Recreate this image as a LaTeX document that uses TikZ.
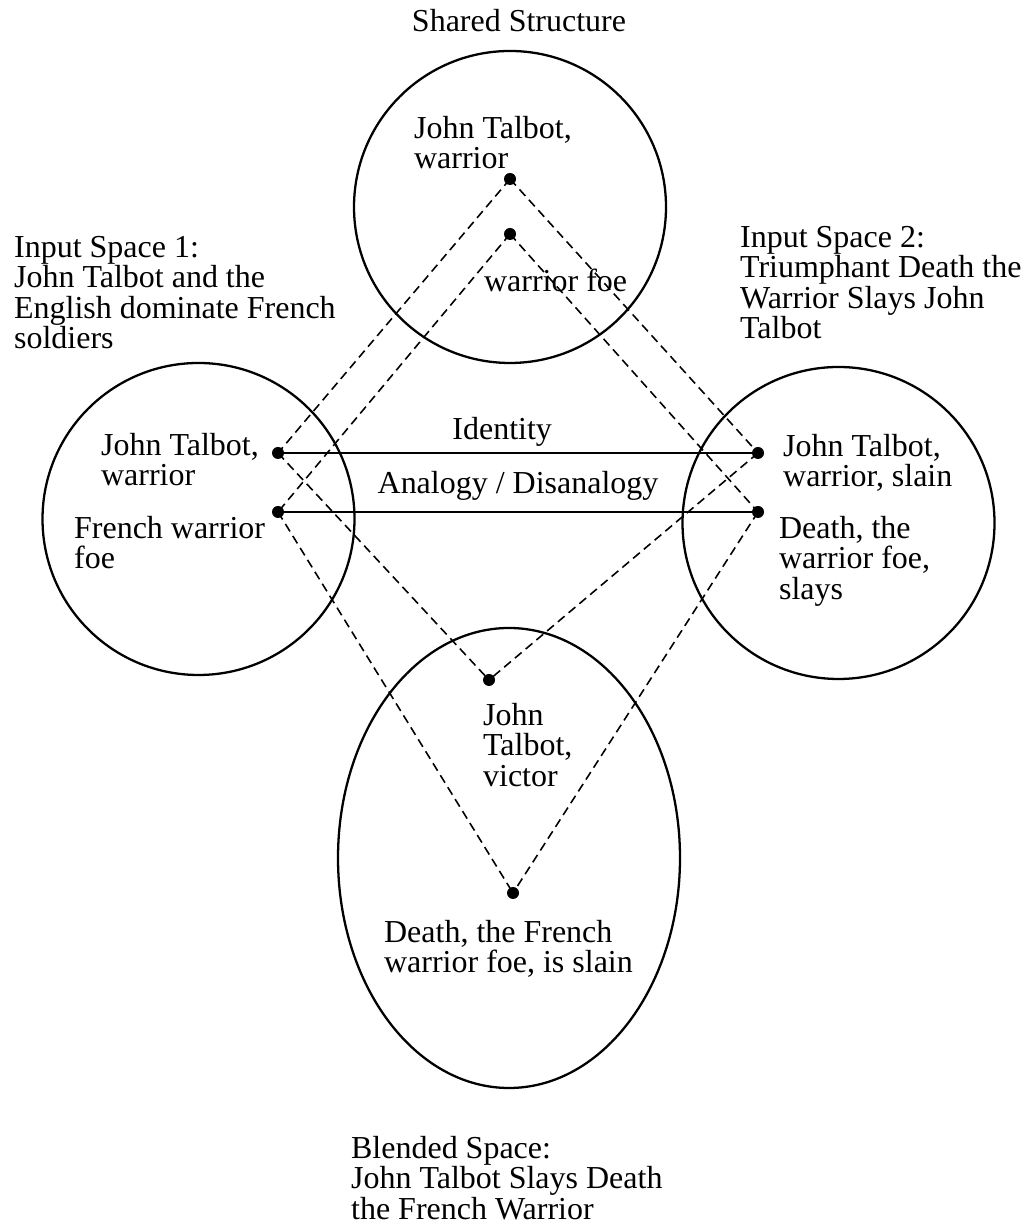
\documentclass[tikz,border=0pt]{standalone}
\usepackage{fontspec}
\setmainfont{Liberation Serif}
\usetikzlibrary{positioning}
\tikzset{every picture/.style={line width=1.3pt}}

\begin{document}
\begin{tikzpicture}[
    txt/.style={inner sep=0pt, align=left, anchor=north west, font=\fontsize{18.2}{17.3}\selectfont},
    mapline/.style={line width=0.9pt, dash pattern=on 5pt off 3pt},
    dot/.style={circle, fill, inner sep=0pt, minimum size=0.24cm}
]
    \useasboundingbox (0,0) rectangle (20.48,24.52);
    % 四个空间
    \draw (10.2,20.38) circle (3.12);
    \draw (3.97,14.14) circle (3.12);
    \draw (16.77,14.06) circle (3.12);
    \draw (10.18,7.36) ellipse (3.42 and 4.6);
    % 元素
    \node[dot] (t1) at (10.2,20.94) {};
    \node[dot] (t2) at (10.2,19.84) {};
    \node[dot] (l1) at (5.56,15.46) {};
    \node[dot] (l2) at (5.56,14.28) {};
    \node[dot] (r1) at (15.16,15.46) {};
    \node[dot] (r2) at (15.16,14.28) {};
    \node[dot] (b1) at (9.78,10.92) {};
    \node[dot] (b2) at (10.26,6.66) {};
    % 映射
    \draw[mapline] (t1.center) -- (l1.center);
    \draw[mapline] (t1.center) -- (r1.center);
    \draw[mapline] (t2.center) -- (l2.center);
    \draw[mapline] (t2.center) -- (r2.center);
    \draw[mapline] (l1.center) -- (b1.center);
    \draw[mapline] (r1.center) -- (b1.center);
    \draw[mapline] (l2.center) -- (b2.center);
    \draw[mapline] (r2.center) -- (b2.center);
    % 跨空间连接
    \draw (l1.center) -- node[txt, pos=.467, anchor=base, yshift=0.26cm] (ident) {Identity} (r1.center);
    \draw (l2.center) -- node[txt, midway, anchor=base, yshift=0.36cm] (analog) {Analogy / Disanalogy} (r2.center);
    % 标题
    \node[txt, anchor=base] (shared) at (10.38,23.88) {Shared Structure};
    \node[txt] (in1) at (0.26,19.82) {Input Space 1:\\John Talbot and the\\English dominate French\\soldiers};
    \node[txt] (in2) at (14.78,20.02) {Input Space 2:\\Triumphant Death the\\Warrior Slays John\\Talbot};
    \node[txt] (blend) at (7.0,1.82) {Blended Space:\\John Talbot Slays Death\\the French Warrior};
    % 标注
    \node[txt] (tJT) at (8.26,22.22) {John Talbot,\\warrior};
    \node[txt, anchor=base west] (tfoe) at (9.66,18.68) {warrior foe};
    \node[txt] (lJT) at (2.0,15.88) {John Talbot,\\warrior};
    \node[txt] (lfoe) at (1.46,14.22) {French warrior\\foe};
    \node[txt] (rJT) at (15.64,15.86) {John Talbot,\\warrior, slain};
    \node[txt] (rfoe) at (15.56,14.22) {Death, the\\warrior foe,\\slays};
    \node[txt] (bJT) at (9.64,10.48) {John\\Talbot,\\victor};
    \node[txt] (bfoe) at (7.66,6.14) {Death, the French\\warrior foe, is slain};
\end{tikzpicture}
\end{document}
